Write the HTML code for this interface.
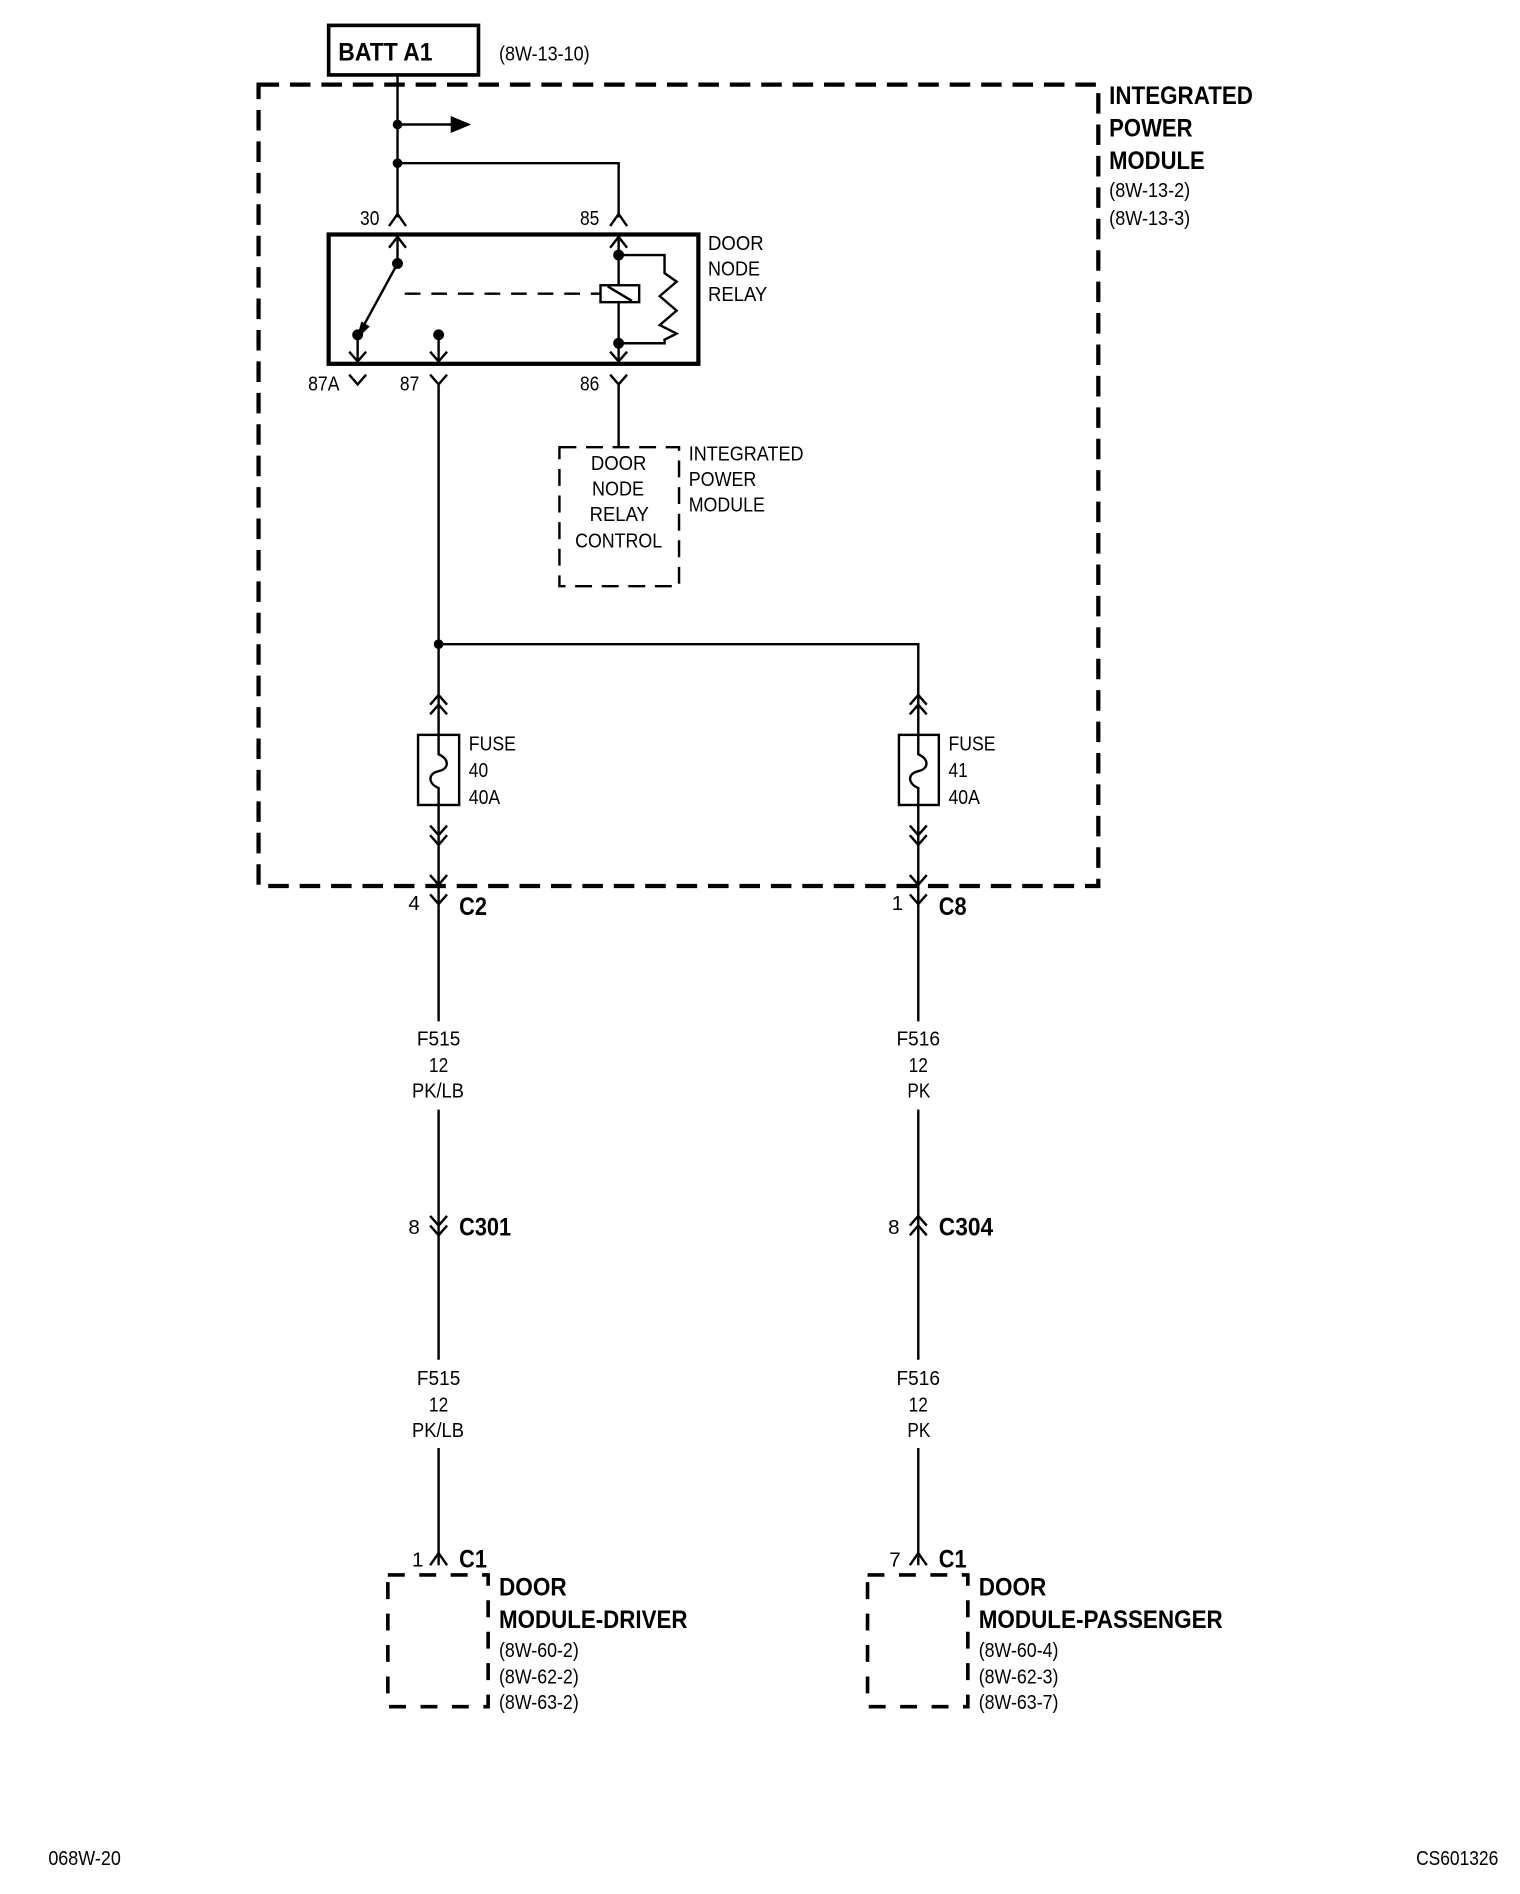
<!DOCTYPE html>
<html><head><meta charset="utf-8"><style>
html,body{margin:0;padding:0;background:#fff}
svg{display:block}
text{font-family:"Liberation Sans",sans-serif;fill:#000}
.b{font-weight:bold;font-size:21px}
.n{font-size:17px}
</style></head><body>
<svg width="1520" height="1894" viewBox="0 0 1258 1567" preserveAspectRatio="none" xmlns="http://www.w3.org/2000/svg">
<g fill="none" stroke="#000" stroke-width="2">
<rect x="272" y="21" width="124" height="41" stroke-width="3"/>
<rect x="214" y="70" width="695" height="663" stroke-width="3.5" stroke-dasharray="17,9"/>
<line x1="329" y1="62" x2="329" y2="180"/>
<line x1="329" y1="103" x2="375" y2="103"/>
<polyline points="329,135 512,135 512,180"/>
<polyline points="322,187 329,177 336,187"/>
<polyline points="505,187 512,177 519,187"/>
<rect x="272" y="194" width="306" height="107" stroke-width="3.5"/>
<line x1="329" y1="196" x2="329" y2="218"/>
<polyline points="322,205 329,196 336,205"/>
<line x1="329" y1="218" x2="299" y2="273"/>
<line x1="335" y1="243" x2="497" y2="243" stroke-dasharray="13,9"/>
<line x1="296" y1="277" x2="296" y2="299"/>
<polyline points="289,291 296,299 303,291"/>
<line x1="363" y1="277" x2="363" y2="299"/>
<polyline points="356,291 363,299 370,291"/>
<line x1="512" y1="196" x2="512" y2="299"/>
<polyline points="505,205 512,196 519,205"/>
<polyline points="505,291 512,299 519,291"/>
<rect x="497" y="236" width="32" height="14" fill="#fff"/>
<line x1="503" y1="237" x2="523" y2="249"/>
<polyline points="512,211 550,211 550,226 560,233 546,245 560,257 546,269 560,276 550,281 550,284 512,284"/>
<polyline points="289,310 296,318 303,310"/>
<polyline points="356,310 363,318 370,310"/>
<polyline points="505,310 512,318 519,310"/>
<line x1="363" y1="318" x2="363" y2="533"/>
<line x1="512" y1="318" x2="512" y2="370"/>
<rect x="463" y="370" width="99" height="115" stroke-dasharray="14,8"/>
<polyline points="363,533 363,752"/>
<polyline points="363,533 760,533 760,752"/>
<polyline points="356,583 363,575 370,583"/><polyline points="356,591 363,583 370,591"/>
<polyline points="753,583 760,575 767,583"/><polyline points="753,591 760,583 767,591"/>
<rect x="346" y="608" width="34" height="58" fill="#fff"/>
<rect x="744" y="608" width="33" height="58" fill="#fff"/>
<path d="M363,608 V624 C372,628 372,636 363,638 C354,640 354,648 363,652 V666"/>
<path d="M760,608 V624 C769,628 769,636 760,638 C751,640 751,648 760,652 V666"/>
<polyline points="356,683 363,691 370,683"/><polyline points="356,691 363,699 370,691"/>
<polyline points="753,683 760,691 767,683"/><polyline points="753,691 760,699 767,691"/>
<polyline points="356,724 363,732 370,724"/>
<polyline points="753,724 760,732 767,724"/>
<polyline points="356,740 363,748 370,740"/>
<polyline points="753,740 760,748 767,740"/>
<line x1="363" y1="752" x2="363" y2="845"/><line x1="760" y1="752" x2="760" y2="845"/>
<line x1="363" y1="918" x2="363" y2="1125"/><line x1="760" y1="918" x2="760" y2="1125"/>
<polyline points="356,1006 363,1014 370,1006"/><polyline points="356,1014 363,1022 370,1014"/>
<polyline points="753,1014 760,1006 767,1014"/><polyline points="753,1022 760,1014 767,1022"/>
<line x1="363" y1="1198" x2="363" y2="1295"/><line x1="760" y1="1198" x2="760" y2="1295"/>
<polyline points="356,1295 363,1285 370,1295"/>
<polyline points="753,1295 760,1285 767,1295"/>
<rect x="321" y="1303" width="83" height="109" stroke-width="3" stroke-dasharray="14,12"/>
<rect x="718" y="1303" width="83" height="109" stroke-width="3" stroke-dasharray="14,12"/>
</g>
<g fill="#000">
<polygon points="373,96 390,103 373,110"/>
<circle cx="329" cy="103" r="4"/><circle cx="329" cy="135" r="4"/>
<circle cx="329" cy="218" r="4.5"/><circle cx="296" cy="277" r="4.5"/><circle cx="363" cy="277" r="4.5"/>
<circle cx="512" cy="211" r="4.5"/><circle cx="512" cy="284" r="4.5"/>
<polygon points="295,281 299,266 306,270"/>
<circle cx="363" cy="533" r="4"/>
</g>
<g lengthAdjust="spacingAndGlyphs">
<text class="b" x="280" y="50" textLength="78" lengthAdjust="spacingAndGlyphs">BATT A1</text>
<text class="n" x="413" y="50" textLength="75" lengthAdjust="spacingAndGlyphs">(8W-13-10)</text>
<text class="b" x="918" y="86" textLength="119" lengthAdjust="spacingAndGlyphs">INTEGRATED</text>
<text class="b" x="918" y="113" textLength="69" lengthAdjust="spacingAndGlyphs">POWER</text>
<text class="b" x="918" y="140" textLength="79" lengthAdjust="spacingAndGlyphs">MODULE</text>
<text class="n" x="918" y="163" textLength="67" lengthAdjust="spacingAndGlyphs">(8W-13-2)</text>
<text class="n" x="918" y="186" textLength="67" lengthAdjust="spacingAndGlyphs">(8W-13-3)</text>
<text class="n" x="298" y="186" textLength="16" lengthAdjust="spacingAndGlyphs">30</text>
<text class="n" x="480" y="186" textLength="16" lengthAdjust="spacingAndGlyphs">85</text>
<text class="n" x="586" y="207" textLength="46" lengthAdjust="spacingAndGlyphs">DOOR</text>
<text class="n" x="586" y="228" textLength="43" lengthAdjust="spacingAndGlyphs">NODE</text>
<text class="n" x="586" y="249" textLength="49" lengthAdjust="spacingAndGlyphs">RELAY</text>
<text class="n" x="255" y="323" textLength="26" lengthAdjust="spacingAndGlyphs">87A</text>
<text class="n" x="331" y="323" textLength="16" lengthAdjust="spacingAndGlyphs">87</text>
<text class="n" x="480" y="323" textLength="16" lengthAdjust="spacingAndGlyphs">86</text>
<text class="n" x="489" y="389" textLength="46" lengthAdjust="spacingAndGlyphs">DOOR</text>
<text class="n" x="490" y="410" textLength="43" lengthAdjust="spacingAndGlyphs">NODE</text>
<text class="n" x="488" y="431" textLength="49" lengthAdjust="spacingAndGlyphs">RELAY</text>
<text class="n" x="476" y="453" textLength="72" lengthAdjust="spacingAndGlyphs">CONTROL</text>
<text class="n" x="570" y="381" textLength="95" lengthAdjust="spacingAndGlyphs">INTEGRATED</text>
<text class="n" x="570" y="402" textLength="56" lengthAdjust="spacingAndGlyphs">POWER</text>
<text class="n" x="570" y="423" textLength="63" lengthAdjust="spacingAndGlyphs">MODULE</text>
<text class="n" x="388" y="621" textLength="39" lengthAdjust="spacingAndGlyphs">FUSE</text><text class="n" x="388" y="643" textLength="16" lengthAdjust="spacingAndGlyphs">40</text><text class="n" x="388" y="665" textLength="26" lengthAdjust="spacingAndGlyphs">40A</text>
<text class="n" x="785" y="621" textLength="39" lengthAdjust="spacingAndGlyphs">FUSE</text><text class="n" x="785" y="643" textLength="16" lengthAdjust="spacingAndGlyphs">41</text><text class="n" x="785" y="665" textLength="26" lengthAdjust="spacingAndGlyphs">40A</text>
<text class="n" x="338" y="753">4</text><text class="b" x="380" y="757" textLength="23" lengthAdjust="spacingAndGlyphs">C2</text>
<text class="n" x="738" y="753">1</text><text class="b" x="777" y="757" textLength="23" lengthAdjust="spacingAndGlyphs">C8</text>
<text class="n" x="345" y="865" textLength="36" lengthAdjust="spacingAndGlyphs">F515</text><text class="n" x="355" y="887" textLength="16" lengthAdjust="spacingAndGlyphs">12</text><text class="n" x="341" y="908" textLength="43" lengthAdjust="spacingAndGlyphs">PK/LB</text>
<text class="n" x="742" y="865" textLength="36" lengthAdjust="spacingAndGlyphs">F516</text><text class="n" x="752" y="887" textLength="16" lengthAdjust="spacingAndGlyphs">12</text><text class="n" x="751" y="908" textLength="19" lengthAdjust="spacingAndGlyphs">PK</text>
<text class="n" x="345" y="1146" textLength="36" lengthAdjust="spacingAndGlyphs">F515</text><text class="n" x="355" y="1168" textLength="16" lengthAdjust="spacingAndGlyphs">12</text><text class="n" x="341" y="1189" textLength="43" lengthAdjust="spacingAndGlyphs">PK/LB</text>
<text class="n" x="742" y="1146" textLength="36" lengthAdjust="spacingAndGlyphs">F516</text><text class="n" x="752" y="1168" textLength="16" lengthAdjust="spacingAndGlyphs">12</text><text class="n" x="751" y="1189" textLength="19" lengthAdjust="spacingAndGlyphs">PK</text>
<text class="n" x="338" y="1021">8</text><text class="b" x="380" y="1022" textLength="43" lengthAdjust="spacingAndGlyphs">C301</text>
<text class="n" x="735" y="1021">8</text><text class="b" x="777" y="1022" textLength="45" lengthAdjust="spacingAndGlyphs">C304</text>
<text class="n" x="341" y="1296">1</text><text class="b" x="380" y="1297" textLength="23" lengthAdjust="spacingAndGlyphs">C1</text>
<text class="n" x="736" y="1296">7</text><text class="b" x="777" y="1297" textLength="23" lengthAdjust="spacingAndGlyphs">C1</text>
<text class="b" x="413" y="1320" textLength="56" lengthAdjust="spacingAndGlyphs">DOOR</text><text class="b" x="413" y="1347" textLength="156" lengthAdjust="spacingAndGlyphs">MODULE-DRIVER</text>
<text class="n" x="413" y="1371" textLength="66" lengthAdjust="spacingAndGlyphs">(8W-60-2)</text><text class="n" x="413" y="1393" textLength="66" lengthAdjust="spacingAndGlyphs">(8W-62-2)</text><text class="n" x="413" y="1414" textLength="66" lengthAdjust="spacingAndGlyphs">(8W-63-2)</text>
<text class="b" x="810" y="1320" textLength="56" lengthAdjust="spacingAndGlyphs">DOOR</text><text class="b" x="810" y="1347" textLength="202" lengthAdjust="spacingAndGlyphs">MODULE-PASSENGER</text>
<text class="n" x="810" y="1371" textLength="66" lengthAdjust="spacingAndGlyphs">(8W-60-4)</text><text class="n" x="810" y="1393" textLength="66" lengthAdjust="spacingAndGlyphs">(8W-62-3)</text><text class="n" x="810" y="1414" textLength="66" lengthAdjust="spacingAndGlyphs">(8W-63-7)</text>
<text class="n" x="40" y="1543" textLength="60" lengthAdjust="spacingAndGlyphs">068W-20</text>
<text class="n" x="1172" y="1543" textLength="68" lengthAdjust="spacingAndGlyphs">CS601326</text>
</g>
</svg>
</body></html>
